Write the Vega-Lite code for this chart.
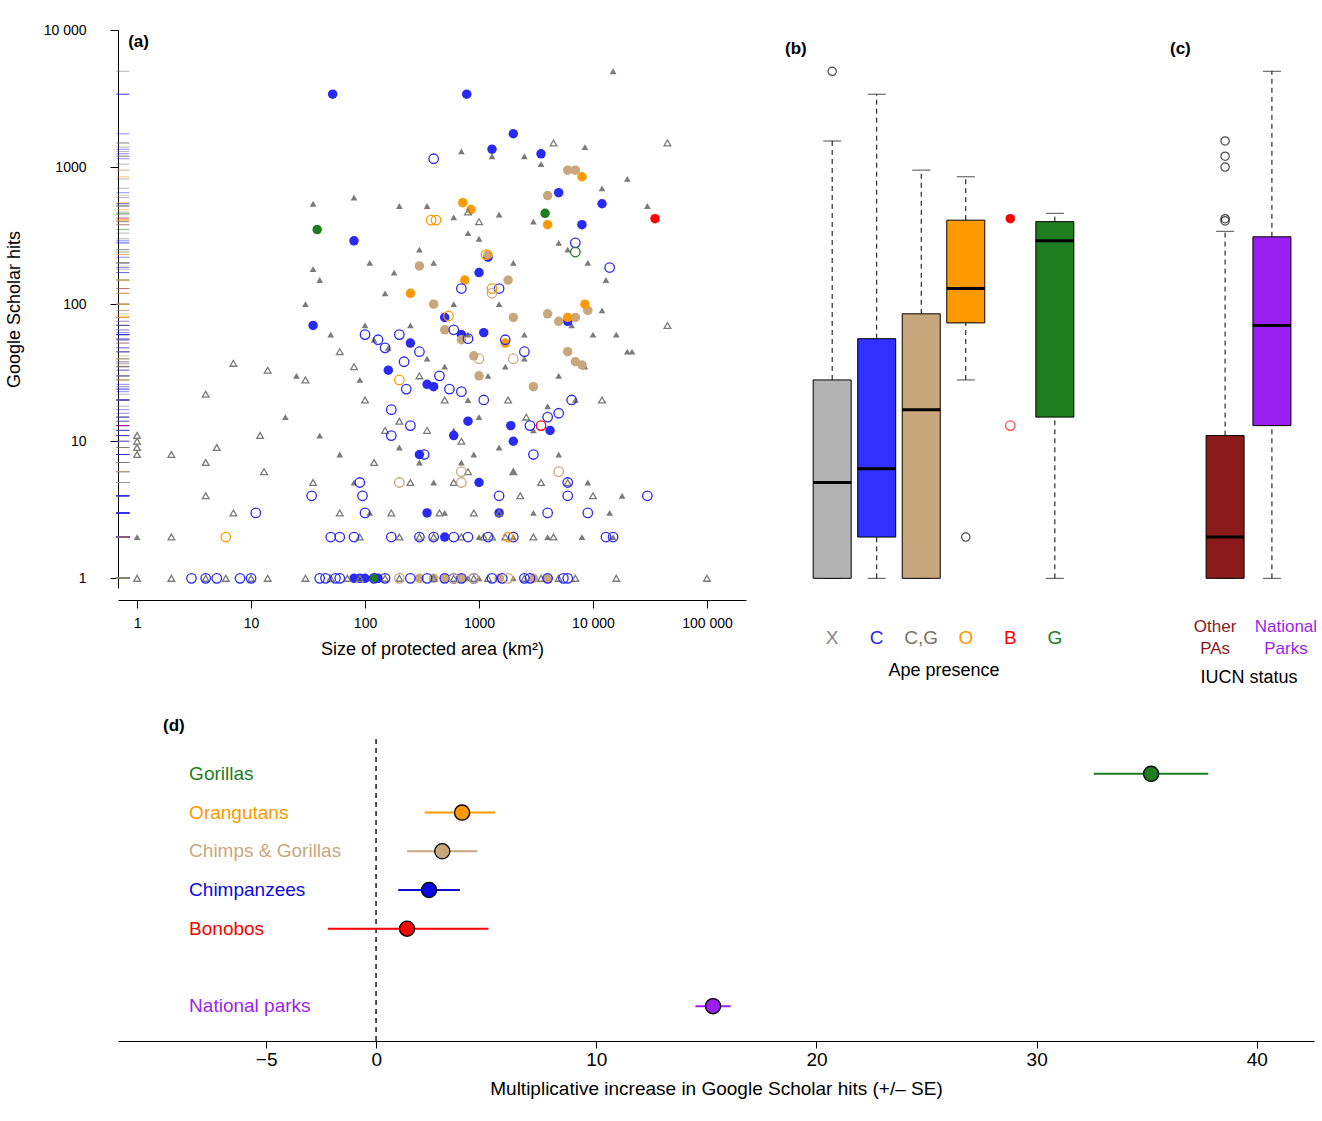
{
"$schema":"https://vega.github.io/schema/vega-lite/v6.json",
"padding":{"top":23,"left":5,"right":5,"bottom":5},
"config":{"font":"Liberation Sans","view":{"stroke":null},"axis":{"labelFontSize":15,"titleFontSize":18,"titleColor":"black","titleFontWeight":"normal","grid":false,"domainColor":"black","tickColor":"black"},"title":{"fontSize":17,"fontWeight":"bold","anchor":"start"}},
"resolve":{"scale":{"color":"independent","fill":"independent","shape":"independent"}},
"datasets":{
"pts":[
{"x":15000,"y":5000,"g":"X","f":1},{"x":35,"y":540,"g":"X","f":1},{"x":80,"y":600,"g":"X","f":1},{"x":200,"y":520,"g":"X","f":1},{"x":350,"y":520,"g":"X","f":1},{"x":700,"y":1300,"g":"X","f":1},{"x":1300,"y":1200,"g":"X","f":1},{"x":2500,"y":1200,"g":"X","f":1},{"x":3500,"y":1050,"g":"X","f":1},{"x":8500,"y":1400,"g":"X","f":1},{"x":12000,"y":700,"g":"X","f":1},{"x":20000,"y":820,"g":"X","f":1},{"x":30000,"y":520,"g":"X","f":1},{"x":35,"y":180,"g":"X","f":1},{"x":40,"y":150,"g":"X","f":1},{"x":30,"y":100,"g":"X","f":1},{"x":50,"y":60,"g":"X","f":1},{"x":100,"y":70,"g":"X","f":1},{"x":120,"y":55,"g":"X","f":1},{"x":180,"y":170,"g":"X","f":1},{"x":150,"y":120,"g":"X","f":1},{"x":300,"y":250,"g":"X","f":1},{"x":400,"y":200,"g":"X","f":1},{"x":600,"y":430,"g":"X","f":1},{"x":800,"y":330,"g":"X","f":1},{"x":1000,"y":300,"g":"X","f":1},{"x":1500,"y":450,"g":"X","f":1},{"x":2000,"y":200,"g":"X","f":1},{"x":3000,"y":400,"g":"X","f":1},{"x":5000,"y":280,"g":"X","f":1},{"x":6000,"y":250,"g":"X","f":1},{"x":9000,"y":200,"g":"X","f":1},{"x":13000,"y":150,"g":"X","f":1},{"x":20000,"y":45,"g":"X","f":1},{"x":20,"y":15,"g":"X","f":1},{"x":25,"y":30,"g":"X","f":1},{"x":40,"y":11,"g":"X","f":1},{"x":60,"y":8,"g":"X","f":1},{"x":80,"y":5,"g":"X","f":1},{"x":110,"y":3,"g":"X","f":1},{"x":200,"y":9,"g":"X","f":1},{"x":300,"y":7,"g":"X","f":1},{"x":400,"y":5,"g":"X","f":1},{"x":600,"y":12,"g":"X","f":1},{"x":800,"y":20,"g":"X","f":1},{"x":1000,"y":15,"g":"X","f":1},{"x":1500,"y":9,"g":"X","f":1},{"x":2000,"y":6,"g":"X","f":1},{"x":3000,"y":12,"g":"X","f":1},{"x":4000,"y":18,"g":"X","f":1},{"x":5000,"y":30,"g":"X","f":1},{"x":7000,"y":20,"g":"X","f":1},{"x":9000,"y":5,"g":"X","f":1},{"x":10000,"y":60,"g":"X","f":1},{"x":14000,"y":3,"g":"X","f":1},{"x":2500,"y":60,"g":"X","f":1},{"x":800,"y":60,"g":"X","f":1},{"x":600,"y":100,"g":"X","f":1},{"x":1500,"y":100,"g":"X","f":1},{"x":1200,"y":30,"g":"X","f":1},{"x":700,"y":7,"g":"X","f":1},{"x":500,"y":3,"g":"X","f":1},{"x":1000,"y":2,"g":"X","f":1},{"x":2000,"y":2,"g":"X","f":1},{"x":3000,"y":3,"g":"X","f":1},{"x":4000,"y":2,"g":"X","f":1},{"x":8000,"y":2,"g":"X","f":1},{"x":15000,"y":2,"g":"X","f":1},{"x":1,"y":2,"g":"X","f":1},{"x":90,"y":28,"g":"X","f":1},{"x":110,"y":200,"g":"X","f":1},{"x":160,"y":48,"g":"X","f":1},{"x":250,"y":70,"g":"X","f":1},{"x":350,"y":40,"g":"X","f":1},{"x":500,"y":35,"g":"X","f":1},{"x":900,"y":8,"g":"X","f":1},{"x":1700,"y":35,"g":"X","f":1},{"x":2500,"y":40,"g":"X","f":1},{"x":5000,"y":8,"g":"X","f":1},{"x":6500,"y":70,"g":"X","f":1},{"x":8500,"y":35,"g":"X","f":1},{"x":12000,"y":90,"g":"X","f":1},{"x":16000,"y":60,"g":"X","f":1},{"x":22000,"y":45,"g":"X","f":1},{"x":18000,"y":4,"g":"X","f":1},{"x":1000,"y":1,"g":"X","f":1},{"x":2000,"y":1,"g":"X","f":1},{"x":3000,"y":1,"g":"X","f":1},{"x":300,"y":1,"g":"X","f":1},{"x":500,"y":1,"g":"X","f":1},{"x":800,"y":1,"g":"X","f":1},{"x":1500,"y":1,"g":"X","f":1},{"x":4000,"y":1,"g":"X","f":1},
{"x":1,"y":1,"g":"X","f":0},{"x":2,"y":1,"g":"X","f":0},{"x":4,"y":1,"g":"X","f":0},{"x":6,"y":1,"g":"X","f":0},{"x":10,"y":1,"g":"X","f":0},{"x":14,"y":1,"g":"X","f":0},{"x":30,"y":1,"g":"X","f":0},{"x":50,"y":1,"g":"X","f":0},{"x":70,"y":1,"g":"X","f":0},{"x":90,"y":1,"g":"X","f":0},{"x":150,"y":1,"g":"X","f":0},{"x":200,"y":1,"g":"X","f":0},{"x":400,"y":1,"g":"X","f":0},{"x":600,"y":1,"g":"X","f":0},{"x":900,"y":1,"g":"X","f":0},{"x":1200,"y":1,"g":"X","f":0},{"x":2500,"y":1,"g":"X","f":0},{"x":3500,"y":1,"g":"X","f":0},{"x":5000,"y":1,"g":"X","f":0},{"x":7000,"y":1,"g":"X","f":0},{"x":16000,"y":1,"g":"X","f":0},{"x":100000,"y":1,"g":"X","f":0},{"x":1,"y":8,"g":"X","f":0},{"x":1,"y":9,"g":"X","f":0},{"x":1,"y":10,"g":"X","f":0},{"x":1,"y":11,"g":"X","f":0},{"x":2,"y":8,"g":"X","f":0},{"x":4,"y":7,"g":"X","f":0},{"x":4,"y":4,"g":"X","f":0},{"x":5,"y":9,"g":"X","f":0},{"x":7,"y":3,"g":"X","f":0},{"x":12,"y":11,"g":"X","f":0},{"x":13,"y":6,"g":"X","f":0},{"x":14,"y":33,"g":"X","f":0},{"x":7,"y":37,"g":"X","f":0},{"x":4,"y":22,"g":"X","f":0},{"x":35,"y":5,"g":"X","f":0},{"x":30,"y":28,"g":"X","f":0},{"x":60,"y":45,"g":"X","f":0},{"x":80,"y":35,"g":"X","f":0},{"x":100,"y":20,"g":"X","f":0},{"x":120,"y":7,"g":"X","f":0},{"x":150,"y":12,"g":"X","f":0},{"x":170,"y":3,"g":"X","f":0},{"x":200,"y":2,"g":"X","f":0},{"x":250,"y":5,"g":"X","f":0},{"x":300,"y":2,"g":"X","f":0},{"x":350,"y":12,"g":"X","f":0},{"x":400,"y":2,"g":"X","f":0},{"x":450,"y":3,"g":"X","f":0},{"x":500,"y":20,"g":"X","f":0},{"x":600,"y":5,"g":"X","f":0},{"x":700,"y":2,"g":"X","f":0},{"x":800,"y":6,"g":"X","f":0},{"x":900,"y":3,"g":"X","f":0},{"x":1100,"y":2,"g":"X","f":0},{"x":1300,"y":2,"g":"X","f":0},{"x":1500,"y":3,"g":"X","f":0},{"x":1700,"y":2,"g":"X","f":0},{"x":2000,"y":6,"g":"X","f":0},{"x":2300,"y":4,"g":"X","f":0},{"x":3000,"y":2,"g":"X","f":0},{"x":3500,"y":5,"g":"X","f":0},{"x":4500,"y":2,"g":"X","f":0},{"x":6000,"y":5,"g":"X","f":0},{"x":10000,"y":4,"g":"X","f":0},{"x":12000,"y":20,"g":"X","f":0},{"x":4500,"y":1500,"g":"X","f":0},{"x":45000,"y":1500,"g":"X","f":0},{"x":45000,"y":70,"g":"X","f":0},{"x":800,"y":470,"g":"X","f":0},{"x":1000,"y":400,"g":"X","f":0},{"x":200,"y":14,"g":"X","f":0},{"x":300,"y":30,"g":"X","f":0},{"x":700,"y":10,"g":"X","f":0},{"x":1800,"y":20,"g":"X","f":0},{"x":2600,"y":15,"g":"X","f":0},{"x":60,"y":3,"g":"X","f":0},{"x":90,"y":2,"g":"X","f":0},{"x":2,"y":2,"g":"X","f":0},
{"x":52,"y":3400,"g":"C","f":1},{"x":780,"y":3400,"g":"C","f":1},{"x":2000,"y":1750,"g":"C","f":1},{"x":1300,"y":1350,"g":"C","f":1},{"x":3500,"y":1250,"g":"C","f":1},{"x":5000,"y":650,"g":"C","f":1},{"x":8000,"y":380,"g":"C","f":1},{"x":12000,"y":540,"g":"C","f":1},{"x":80,"y":290,"g":"C","f":1},{"x":1000,"y":170,"g":"C","f":1},{"x":1200,"y":220,"g":"C","f":1},{"x":700,"y":60,"g":"C","f":1},{"x":1100,"y":62,"g":"C","f":1},{"x":500,"y":80,"g":"C","f":1},{"x":35,"y":70,"g":"C","f":1},{"x":160,"y":33,"g":"C","f":1},{"x":250,"y":52,"g":"C","f":1},{"x":350,"y":26,"g":"C","f":1},{"x":400,"y":25,"g":"C","f":1},{"x":600,"y":11,"g":"C","f":1},{"x":800,"y":14,"g":"C","f":1},{"x":1000,"y":5,"g":"C","f":1},{"x":1900,"y":13,"g":"C","f":1},{"x":2000,"y":10,"g":"C","f":1},{"x":4200,"y":12,"g":"C","f":1},{"x":6000,"y":75,"g":"C","f":1},{"x":1500,"y":3,"g":"C","f":1},{"x":300,"y":8,"g":"C","f":1},{"x":350,"y":3,"g":"C","f":1},{"x":500,"y":2,"g":"C","f":1},{"x":100,"y":1,"g":"C","f":1},{"x":80,"y":1,"g":"C","f":1},{"x":130,"y":1,"g":"C","f":1},{"x":90,"y":1,"g":"C","f":1},
{"x":400,"y":1150,"g":"C","f":0},{"x":7000,"y":280,"g":"C","f":0},{"x":14000,"y":185,"g":"C","f":0},{"x":700,"y":130,"g":"C","f":0},{"x":1500,"y":130,"g":"C","f":0},{"x":600,"y":65,"g":"C","f":0},{"x":800,"y":56,"g":"C","f":0},{"x":1700,"y":55,"g":"C","f":0},{"x":2500,"y":45,"g":"C","f":0},{"x":100,"y":60,"g":"C","f":0},{"x":130,"y":55,"g":"C","f":0},{"x":150,"y":48,"g":"C","f":0},{"x":200,"y":60,"g":"C","f":0},{"x":220,"y":38,"g":"C","f":0},{"x":300,"y":45,"g":"C","f":0},{"x":450,"y":30,"g":"C","f":0},{"x":550,"y":24,"g":"C","f":0},{"x":700,"y":23,"g":"C","f":0},{"x":1100,"y":20,"g":"C","f":0},{"x":170,"y":17,"g":"C","f":0},{"x":170,"y":11,"g":"C","f":0},{"x":250,"y":13,"g":"C","f":0},{"x":230,"y":24,"g":"C","f":0},{"x":330,"y":8,"g":"C","f":0},{"x":4000,"y":15,"g":"C","f":0},{"x":5000,"y":16,"g":"C","f":0},{"x":6500,"y":20,"g":"C","f":0},{"x":6000,"y":5,"g":"C","f":0},{"x":6000,"y":4,"g":"C","f":0},{"x":2800,"y":13,"g":"C","f":0},{"x":1500,"y":4,"g":"C","f":0},{"x":3000,"y":8,"g":"C","f":0},{"x":1200,"y":2,"g":"C","f":0},{"x":800,"y":2,"g":"C","f":0},{"x":600,"y":2,"g":"C","f":0},{"x":400,"y":2,"g":"C","f":0},{"x":300,"y":2,"g":"C","f":0},{"x":50,"y":2,"g":"C","f":0},{"x":60,"y":2,"g":"C","f":0},{"x":80,"y":2,"g":"C","f":0},{"x":90,"y":5,"g":"C","f":0},{"x":100,"y":3,"g":"C","f":0},{"x":95,"y":4,"g":"C","f":0},{"x":170,"y":2,"g":"C","f":0},{"x":34,"y":4,"g":"C","f":0},{"x":11,"y":3,"g":"C","f":0},{"x":4000,"y":3,"g":"C","f":0},{"x":9000,"y":3,"g":"C","f":0},{"x":13000,"y":2,"g":"C","f":0},{"x":15000,"y":2,"g":"C","f":0},{"x":2000,"y":2,"g":"C","f":0},{"x":30000,"y":4,"g":"C","f":0},{"x":3,"y":1,"g":"C","f":0},{"x":4,"y":1,"g":"C","f":0},{"x":5,"y":1,"g":"C","f":0},{"x":8,"y":1,"g":"C","f":0},{"x":10,"y":1,"g":"C","f":0},{"x":40,"y":1,"g":"C","f":0},{"x":60,"y":1,"g":"C","f":0},{"x":120,"y":1,"g":"C","f":0},{"x":150,"y":1,"g":"C","f":0},{"x":250,"y":1,"g":"C","f":0},{"x":350,"y":1,"g":"C","f":0},{"x":500,"y":1,"g":"C","f":0},{"x":700,"y":1,"g":"C","f":0},{"x":900,"y":1,"g":"C","f":0},{"x":1300,"y":1,"g":"C","f":0},{"x":1600,"y":1,"g":"C","f":0},{"x":2500,"y":1,"g":"C","f":0},{"x":4000,"y":1,"g":"C","f":0},{"x":6000,"y":1,"g":"C","f":0},{"x":55,"y":1,"g":"C","f":0},{"x":45,"y":1,"g":"C","f":0},{"x":600,"y":1,"g":"C","f":0},{"x":5500,"y":1,"g":"C","f":0},{"x":2800,"y":1,"g":"C","f":0},
{"x":6000,"y":950,"g":"CG","f":1},{"x":7000,"y":950,"g":"CG","f":1},{"x":4000,"y":620,"g":"CG","f":1},{"x":1800,"y":150,"g":"CG","f":1},{"x":2000,"y":80,"g":"CG","f":1},{"x":1000,"y":30,"g":"CG","f":1},{"x":900,"y":42,"g":"CG","f":1},{"x":300,"y":190,"g":"CG","f":1},{"x":400,"y":100,"g":"CG","f":1},{"x":500,"y":65,"g":"CG","f":1},{"x":700,"y":55,"g":"CG","f":1},{"x":1200,"y":230,"g":"CG","f":1},{"x":4000,"y":85,"g":"CG","f":1},{"x":5000,"y":75,"g":"CG","f":1},{"x":7000,"y":38,"g":"CG","f":1},{"x":7000,"y":80,"g":"CG","f":1},{"x":9000,"y":90,"g":"CG","f":1},{"x":3000,"y":25,"g":"CG","f":1},{"x":6000,"y":45,"g":"CG","f":1},{"x":8000,"y":36,"g":"CG","f":1},{"x":300,"y":1,"g":"CG","f":1},{"x":400,"y":1,"g":"CG","f":1},{"x":700,"y":1,"g":"CG","f":1},{"x":1500,"y":1,"g":"CG","f":1},{"x":3000,"y":1,"g":"CG","f":1},{"x":4000,"y":1,"g":"CG","f":1},{"x":500,"y":1,"g":"CG","f":1},
{"x":1000,"y":40,"g":"CG","f":0},{"x":1300,"y":120,"g":"CG","f":0},{"x":5000,"y":6,"g":"CG","f":0},{"x":700,"y":6,"g":"CG","f":0},{"x":200,"y":5,"g":"CG","f":0},{"x":700,"y":5,"g":"CG","f":0},{"x":2000,"y":40,"g":"CG","f":0},{"x":200,"y":1,"g":"CG","f":0},{"x":600,"y":1,"g":"CG","f":0},{"x":900,"y":1,"g":"CG","f":0},{"x":1800,"y":1,"g":"CG","f":0},
{"x":720,"y":550,"g":"O","f":1},{"x":850,"y":490,"g":"O","f":1},{"x":250,"y":120,"g":"O","f":1},{"x":750,"y":150,"g":"O","f":1},{"x":1700,"y":52,"g":"O","f":1},{"x":8000,"y":850,"g":"O","f":1},{"x":8500,"y":100,"g":"O","f":1},{"x":4000,"y":380,"g":"O","f":1},{"x":6000,"y":80,"g":"O","f":1},
{"x":420,"y":410,"g":"O","f":0},{"x":380,"y":410,"g":"O","f":0},{"x":1150,"y":230,"g":"O","f":0},{"x":1300,"y":130,"g":"O","f":0},{"x":6,"y":2,"g":"O","f":0},{"x":200,"y":28,"g":"O","f":0},{"x":540,"y":82,"g":"O","f":0},{"x":1800,"y":2,"g":"O","f":0},
{"x":38,"y":350,"g":"G","f":1},{"x":3800,"y":460,"g":"G","f":1},{"x":120,"y":1,"g":"G","f":1},{"x":7000,"y":240,"g":"G","f":0},
{"x":35000,"y":420,"g":"B","f":1},{"x":3500,"y":13,"g":"B","f":0}
],
"boxb":[
{"c":"X","min":1,"q1":1,"med":5,"q3":28,"max":1550},
{"c":"C","min":1,"q1":2,"med":6.3,"q3":56,"max":3400},
{"c":"C,G","min":1,"q1":1,"med":17,"q3":85,"max":950},
{"c":"O","min":28,"q1":73,"med":130,"q3":410,"max":850},
{"c":"G","min":1,"q1":15,"med":290,"q3":400,"max":460}
],
"outb":[
{"c":"X","v":5000,"k":"o"},{"c":"O","v":2,"k":"o"},{"c":"B","v":420,"k":"Bf"},{"c":"B","v":13,"k":"Bo"}
],
"boxc":[
{"c":"Other PAs","min":1,"q1":1,"med":2,"q3":11,"max":340},
{"c":"National Parks","min":1,"q1":13,"med":70,"q3":310,"max":5000}
],
"outc":[
{"c":"Other PAs","v":1550},{"c":"Other PAs","v":1200},{"c":"Other PAs","v":1000},{"c":"Other PAs","v":420},{"c":"Other PAs","v":405}
],
"eff":[
{"n":"Gorillas","est":35.2,"lo":32.6,"hi":37.8},
{"n":"Orangutans","est":3.9,"lo":2.2,"hi":5.4},
{"n":"Chimps & Gorillas","est":3.0,"lo":1.4,"hi":4.6},
{"n":"Chimpanzees","est":2.4,"lo":1.0,"hi":3.8},
{"n":"Bonobos","est":1.4,"lo":-2.2,"hi":5.1},
{"n":"National parks","est":15.3,"lo":14.5,"hi":16.1}
]
},
"vconcat":[
{"resolve":{"scale":{"color":"independent","fill":"independent","shape":"independent"}},
"hconcat":[
{"title":{"text":"(a)","offset":0,"dx":123,"dy":28},"width":628,"height":558,
"data":{"name":"pts"},
"encoding":{"y":{"field":"y","type":"quantitative","scale":{"type":"log","domain":[0.85,10000],"nice":false},"axis":{"title":"Google Scholar hits","labelColor":"black","values":[1,10,100,1000,10000],"labelExpr":"datum.value==10000?'10 000':datum.value","titlePadding":20,"labelPadding":24,"tickSize":8,"labelFontSize":14}}},
"layer":[
{"mark":{"type":"tick","orient":"horizontal","thickness":1,"size":13,"opacity":0.55},"encoding":{"x":{"datum":0.75,"type":"quantitative"},"color":{"field":"g","type":"nominal","legend":null,"scale":{"domain":["X","C","CG","O","B","G"],"range":["#7a7a7a","#2a2af5","#c9a77c","#ff9900","#ff0000","#1e7d1e"]}}}},
{"transform":[{"filter":"datum.f==1"}],"mark":{"type":"point","filled":true,"opacity":1},
"encoding":{"x":{"field":"x","type":"quantitative","scale":{"type":"log","domain":[0.68,220000],"nice":false},"axis":{"title":"Size of protected area (km²)","labelColor":"black","values":[1,10,100,1000,10000,100000],"labelExpr":"datum.value==10000?'10 000':datum.value==100000?'100 000':datum.value","offset":12,"titlePadding":10,"labelPadding":8,"tickSize":8,"labelFontSize":14}},
"color":{"field":"g","type":"nominal","legend":null},
"shape":{"field":"g","type":"nominal","legend":null,"scale":{"domain":["X","C","CG","O","B","G"],"range":["triangle-up","circle","circle","circle","circle","circle"]}},
"size":{"condition":{"test":"datum.g=='X'","value":45},"value":90}}},
{"transform":[{"filter":"datum.f==0"}],"mark":{"type":"point","filled":false,"strokeWidth":1.3,"opacity":1},
"encoding":{"x":{"field":"x","type":"quantitative"},
"color":{"field":"g","type":"nominal","legend":null},
"shape":{"field":"g","type":"nominal","legend":null},
"size":{"condition":{"test":"datum.g=='X'","value":45},"value":90}}}
]},
{"title":{"text":"(b)","offset":0,"dx":-16,"dy":28},"width":285,"height":558,
"layer":[
{"data":{"name":"boxb"},"layer":[
{"mark":{"type":"rule","strokeDash":[5,4],"color":"black"},"encoding":{"y":{"field":"min","type":"quantitative"},"y2":{"field":"q1"}}},
{"mark":{"type":"rule","strokeDash":[5,4],"color":"black"},"encoding":{"y":{"field":"q3","type":"quantitative"},"y2":{"field":"max"}}},
{"mark":{"type":"tick","color":"black","thickness":1,"size":18},"encoding":{"y":{"field":"min","type":"quantitative"}}},
{"mark":{"type":"tick","color":"black","thickness":1,"size":18},"encoding":{"y":{"field":"max","type":"quantitative"}}},
{"mark":{"type":"bar","stroke":"black","strokeWidth":1,"size":38,"opacity":1},"encoding":{"y":{"field":"q1","type":"quantitative"},"y2":{"field":"q3"},"fill":{"field":"c","type":"nominal","legend":null,"scale":{"domain":["X","C","C,G","O","G"],"range":["#b3b3b3","#3030ff","#c9a77c","#ff9900","#1e7d1e"]}}}},
{"mark":{"type":"tick","color":"black","thickness":3,"size":38,"opacity":1},"encoding":{"y":{"field":"med","type":"quantitative"}}}
],"encoding":{"x":{"field":"c","type":"nominal"}}},
{"data":{"name":"outb"},"layer":[
{"transform":[{"filter":"datum.k=='o'"}],"mark":{"type":"point","color":"black","filled":false,"size":70,"strokeWidth":1.2},"encoding":{"y":{"field":"v","type":"quantitative"}}},
{"transform":[{"filter":"datum.k=='Bf'"}],"mark":{"type":"point","color":"red","filled":true,"size":90,"opacity":1},"encoding":{"y":{"field":"v","type":"quantitative"}}},
{"transform":[{"filter":"datum.k=='Bo'"}],"mark":{"type":"point","color":"red","filled":false,"size":90,"strokeWidth":1.3},"encoding":{"y":{"field":"v","type":"quantitative"}}}
],"encoding":{"x":{"field":"c","type":"nominal"}}}
],
"encoding":{
"x":{"field":"c","type":"nominal","sort":["X","C","C,G","O","B","G"],"scale":{"domain":["X","C","C,G","O","B","G"],"paddingInner":0.2,"paddingOuter":0.3},"axis":{"title":"Ape presence","domain":false,"ticks":false,"labelAngle":0,"labelFontSize":19,"labelPadding":40,"titlePadding":14,"labelColor":{"expr":"datum.value=='X'?'#888888':datum.value=='C'?'#2a2af5':datum.value=='C,G'?'#7a7262':datum.value=='O'?'#ff9900':datum.value=='B'?'#ff0000':'#1e7d1e'"}}},
"y":{"type":"quantitative","scale":{"type":"log","domain":[0.85,10000],"nice":false},"axis":null}}
},
{"title":{"text":"(c)","offset":0,"dx":45,"dy":28},"width":103,"height":558,
"layer":[
{"data":{"name":"boxc"},"layer":[
{"mark":{"type":"rule","strokeDash":[5,4],"color":"black"},"encoding":{"y":{"field":"min","type":"quantitative"},"y2":{"field":"q1"}}},
{"mark":{"type":"rule","strokeDash":[5,4],"color":"black"},"encoding":{"y":{"field":"q3","type":"quantitative"},"y2":{"field":"max"}}},
{"mark":{"type":"tick","color":"black","thickness":1,"size":18},"encoding":{"y":{"field":"min","type":"quantitative"}}},
{"mark":{"type":"tick","color":"black","thickness":1,"size":18},"encoding":{"y":{"field":"max","type":"quantitative"}}},
{"mark":{"type":"bar","stroke":"black","strokeWidth":1,"size":38,"opacity":1},"encoding":{"y":{"field":"q1","type":"quantitative"},"y2":{"field":"q3"},"fill":{"field":"c","type":"nominal","legend":null,"scale":{"domain":["Other PAs","National Parks"],"range":["#8b1a1a","#9b1ff0"]}}}},
{"mark":{"type":"tick","color":"black","thickness":3,"size":38,"opacity":1},"encoding":{"y":{"field":"med","type":"quantitative"}}}
]},
{"data":{"name":"outc"},"mark":{"type":"point","color":"black","filled":false,"size":70,"strokeWidth":1.2},"encoding":{"y":{"field":"v","type":"quantitative"}}}
],
"encoding":{
"x":{"field":"c","type":"nominal","scale":{"domain":["Other PAs","National Parks"],"paddingInner":0.2,"paddingOuter":0.2},"axis":{"title":"IUCN status","domain":false,"ticks":false,"labelAngle":0,"labelFontSize":17,"labelPadding":30,"labelLineHeight":22,"titlePadding":12,"labelExpr":"datum.value=='Other PAs'?['Other','PAs']:['National','Parks']","labelOffset":{"expr":"datum.value=='Other PAs'?-10:14"},"labelColor":{"expr":"datum.value=='Other PAs'?'#8b1a1a':'#9b1ff0'"}}},
"y":{"type":"quantitative","scale":{"type":"log","domain":[0.85,10000],"nice":false},"axis":{"labels":false,"ticks":false,"domain":false,"title":null,"minExtent":72}}}
}
],"spacing":39},
{"title":{"text":"(d)","offset":4,"dx":45},"width":1196,"height":302,
"data":{"name":"eff"},
"encoding":{"y":{"field":"n","type":"ordinal","scale":{"type":"point","domain":["Gorillas","Orangutans","Chimps & Gorillas","Chimpanzees","Bonobos","gap","National parks"],"padding":0.9},"axis":null}},
"layer":[
{"mark":{"type":"rule","strokeDash":[5,4],"color":"#444"},"encoding":{"x":{"datum":0,"type":"quantitative"},"y":{"value":0},"y2":{"value":302}}},
{"mark":{"type":"rule","strokeWidth":2},"encoding":{"x":{"field":"lo","type":"quantitative","scale":{"domain":[-11.73,42.6],"nice":false},"axis":{"values":[-5,0,10,20,30,40],"labelColor":"black","labelExpr":"datum.value<0?'−'+abs(datum.value):datum.value","title":"Multiplicative increase in Google Scholar hits (+/– SE)","labelFontSize":19,"titleFontSize":19,"titlePadding":10,"tickSize":7}},"x2":{"field":"hi"},
"color":{"field":"n","type":"nominal","legend":null,"scale":{"domain":["Gorillas","Orangutans","Chimps & Gorillas","Chimpanzees","Bonobos","National parks"],"range":["#1e7d1e","#ff9900","#c9a77c","#0a0adf","#ff0000","#9b1ff0"]}}}},
{"mark":{"type":"point","filled":true,"size":230,"stroke":"black","strokeWidth":1.3,"opacity":1},"encoding":{"x":{"field":"est","type":"quantitative"},"fill":{"field":"n","type":"nominal","legend":null,"scale":{"domain":["Gorillas","Orangutans","Chimps & Gorillas","Chimpanzees","Bonobos","National parks"],"range":["#1e7d1e","#ff9900","#c9a77c","#0a0adf","#ff0000","#9b1ff0"]}}}},
{"mark":{"type":"text","align":"left","fontSize":19},"encoding":{"x":{"datum":-8.5,"type":"quantitative"},"text":{"field":"n"},"color":{"field":"n","type":"nominal","legend":null,"scale":{"domain":["Gorillas","Orangutans","Chimps & Gorillas","Chimpanzees","Bonobos","National parks"],"range":["#1e7d1e","#ff9900","#8a7a62","#0a0adf","#ff0000","#9b1ff0"]}}}}
]}
],"spacing":30
}
